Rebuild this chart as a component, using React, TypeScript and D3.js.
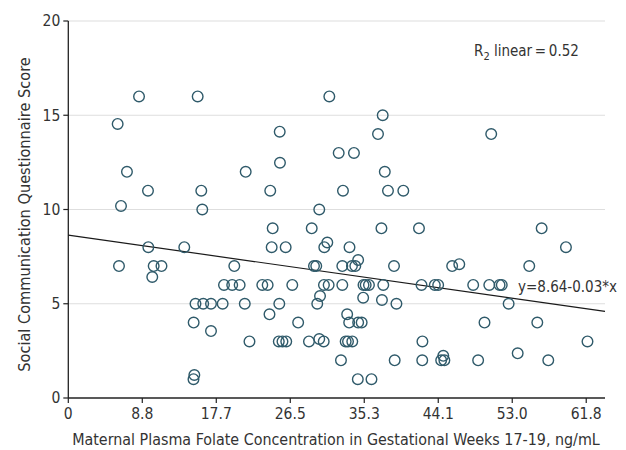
import React from "react";
import * as d3 from "d3";

// Maternal plasma folate (ng/mL) and SCQ score for each participant
const folate: number[] = [
  8.44, 15.44, 31.15,
  37.52,
  5.89,
  25.23,
  36.96, 50.47,
  32.27, 34.09,
  25.26,
  7.0, 21.17, 37.77,
  9.51, 15.87, 24.1, 32.78, 38.15, 39.98,
  6.29,
  15.99, 29.95,
  24.39, 29.05, 37.37, 41.85, 56.49,
  30.91,
  9.55, 13.84, 24.27, 25.94, 30.55, 33.56, 59.39,
  34.59,
  46.66,
  6.05, 10.19, 11.12, 19.81, 29.32, 29.59, 32.7, 33.85, 34.25, 38.87, 45.81, 55.01,
  10.02,
  18.58, 19.56, 20.45, 23.15, 23.79, 26.73, 30.51, 31.07, 32.7, 35.23, 35.49, 35.88, 37.59, 42.15, 43.74, 44.14, 48.32, 50.24, 51.47, 51.73,
  30.04,
  35.19,
  37.43,
  15.18, 16.1, 17.03, 18.42, 21.06, 25.18, 29.71, 39.16, 52.55,
  24.01, 33.28,
  14.96, 27.43, 33.52, 34.59, 35.01, 49.67, 55.97,
  17.03,
  29.95,
  21.62, 25.12, 25.56, 26.01, 28.72, 30.48, 33.1, 33.38, 33.89, 42.26, 61.96,
  53.63,
  44.75,
  32.54, 38.95, 42.24, 44.5, 44.88, 48.91, 57.28,
  15.04,
  14.94, 34.55, 36.18,
];

const scqScore: number[] = [
  16, 16, 16,
  15,
  14.54,
  14.13,
  14, 14,
  13, 13,
  12.48,
  12, 12, 12,
  11, 11, 11, 11, 11, 11,
  10.19,
  10, 10,
  9, 9, 9, 9, 9,
  8.25,
  8, 8, 8, 8, 8, 8, 8,
  7.32,
  7.1,
  7, 7, 7, 7, 7, 7, 7, 7, 7, 7, 7, 7,
  6.42,
  6, 6, 6, 6, 6, 6, 6, 6, 6, 6, 6, 6, 6, 6, 6, 6, 6, 6, 6, 6,
  5.41,
  5.32,
  5.2,
  5, 5, 5, 5, 5, 5, 5, 5, 5,
  4.44, 4.44,
  4, 4, 4, 4, 4, 4, 4,
  3.55,
  3.13,
  3, 3, 3, 3, 3, 3, 3, 3, 3, 3, 3,
  2.37,
  2.24,
  2, 2, 2, 2, 2, 2, 2,
  1.22,
  1, 1, 1,
];

const xTickValues: number[] = [0, 8.83, 17.66, 26.49, 35.32, 44.15, 52.98, 61.81];
const xTickLabels: string[] = ["0", "8.8", "17.7", "26.5", "35.3", "44.1", "53.0", "61.8"];
const yTickValues: number[] = [0, 5, 10, 15, 20];

// Fitted line as drawn in the figure: [x, y] at the domain ends
const fitStart: [number, number] = [0, 8.64];
const fitEnd: [number, number] = [64.05, 4.6];

const xTitle = "Maternal Plasma Folate Concentration in Gestational Weeks 17-19, ng/mL";
const yTitle = "Social Communication Questionnaire Score";
const equationText = "y=8.64-0.03*x";

const W = 626;
const H = 450;
const FONT = "'Liberation Sans Narrow', 'DejaVu Sans Condensed', 'Open Sans', sans-serif";
const TEXT = "#333333";
const CIRCLE = "#2f5a6a";

export default function App() {
  const x = d3.scaleLinear().domain([0, 64.05]).range([68.3, 605]);
  const y = d3.scaleLinear().domain([0, 20]).range([398, 21]);
  const line = d3
    .line<[number, number]>()
    .x((d) => x(d[0]))
    .y((d) => y(d[1]));

  return (
    <div style={{ position: "absolute", left: 0, top: 0 }}>
      <svg width={W} height={H} style={{ display: "block", background: "#fff" }} fontFamily={FONT}>
        {/* gridlines */}
        {yTickValues
          .filter((v) => v > 0)
          .map((v) => (
            <line key={"g" + v} x1={x(0)} x2={605} y1={y(v)} y2={y(v)} stroke="#dedede" strokeWidth={1.2} />
          ))}
        {/* axes */}
        <line x1={x(0)} x2={x(0)} y1={y(20)} y2={y(0)} stroke="#222" strokeWidth={1.3} />
        <line x1={x(0)} x2={605} y1={y(0)} y2={y(0)} stroke="#222" strokeWidth={1.3} />
        {yTickValues.map((v) => (
          <g key={"yt" + v}>
            <line x1={x(0) - 5} x2={x(0)} y1={y(v)} y2={y(v)} stroke="#222" strokeWidth={1.2} />
            <text x={x(0) - 8} y={y(v)} dy="0.35em" textAnchor="end" fontSize={15.5} fill={TEXT}>
              {v}
            </text>
          </g>
        ))}
        {xTickValues.map((v, i) => (
          <g key={"xt" + i}>
            <line x1={x(v)} x2={x(v)} y1={y(0)} y2={y(0) + 5} stroke="#222" strokeWidth={1.2} />
            <text x={x(v)} y={419} textAnchor="middle" fontSize={15.5} fill={TEXT}>
              {xTickLabels[i]}
            </text>
          </g>
        ))}
        {/* titles */}
        <text x={336} y={445} textAnchor="middle" fontSize={15.9} fill={TEXT}>
          {xTitle}
        </text>
        <text
          transform={`translate(30, ${(y(0) + y(20)) / 2 + 5}) rotate(-90)`}
          textAnchor="middle"
          fontSize={16.2}
          fill={TEXT}
        >
          {yTitle}
        </text>
        {/* fitted line */}
        <path d={line([fitStart, fitEnd]) ?? ""} stroke="#1a1a1a" strokeWidth={1.2} fill="none" />
        {/* points */}
        {folate.map((f, i) => (
          <circle
            key={"p" + i}
            cx={x(f)}
            cy={y(scqScore[i])}
            r={5.3}
            fill="none"
            stroke={CIRCLE}
            strokeWidth={1.4}
          />
        ))}
        {/* annotations */}
        <text x={474} y={55.5} fontSize={15} fill={TEXT}>
          R<tspan fontSize={11} dy={4}>2</tspan>
          <tspan dy={-4}>{" linear\u2009=\u20090.52"}</tspan>
        </text>
        <text x={518} y={292} fontSize={15} fill={TEXT}>
          {equationText}
        </text>
      </svg>
    </div>
  );
}
